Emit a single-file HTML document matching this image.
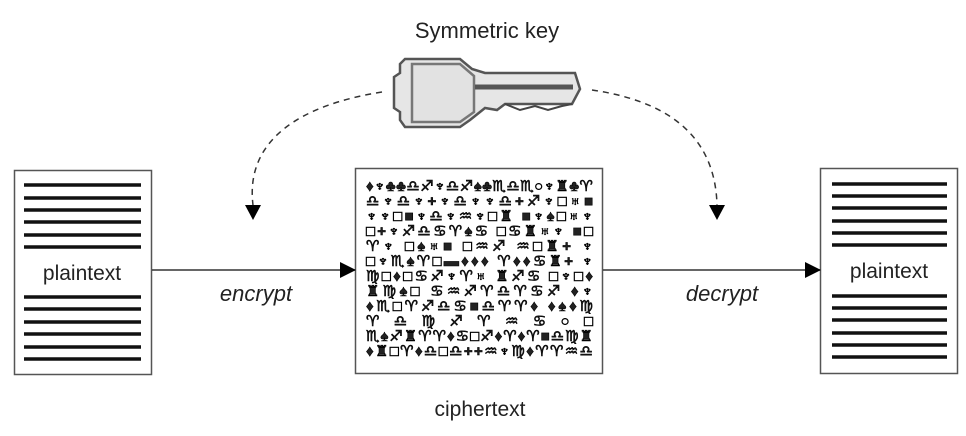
<!DOCTYPE html>
<html><head><meta charset="utf-8"><style>
html,body{margin:0;padding:0;background:#fff;width:966px;height:436px;overflow:hidden}
svg{display:block}
text{font-family:"Liberation Sans","DejaVu Sans",sans-serif;fill:#222}
</style></head><body>
<svg width="966" height="436" viewBox="0 0 966 436" xmlns="http://www.w3.org/2000/svg">
<text x="487" y="38" font-size="22" text-anchor="middle">Symmetric key</text>
<!-- key -->
<g stroke="#555" stroke-width="2.5" fill="#e6e6e6">
<path d="M405,59 L460,59 L472,69 L485,73 L575,73 L580,89 L572,104 L505,104 L497,110 L485,108 L470,120 L460,127 L405,127 L400,120 L400,112 L394,108 L394,77 L400,73 L400,64 Z"/>
<path d="M412,64 L460,64 L474,76 L474,112 L460,122 L412,122 Z" fill="#e2e2e2" stroke="#777"/>
</g>
<path d="M475,87 L573,87" stroke="#555" stroke-width="5"/>
<path d="M505,104 L520,110 L535,106 L548,110 L562,106 L572,104" stroke="#444" stroke-width="2" fill="none"/>
<!-- dashed curves -->
<path d="M382,92 C300,105 245,140 253,205" stroke="#333" stroke-width="1.5" fill="none" stroke-dasharray="6,5"/>
<path d="M245,205 L261,205 L253,220 Z" fill="#000"/>
<path d="M592,90 C660,100 715,130 717,205" stroke="#333" stroke-width="1.5" fill="none" stroke-dasharray="6,5"/>
<path d="M709,205 L725,205 L717,220 Z" fill="#000"/>
<!-- left doc -->
<rect x="14.5" y="170.5" width="137" height="204" fill="#fff" stroke="#555" stroke-width="1.5"/>
<g stroke="#111" stroke-width="3.5">
<line x1="24" y1="185" x2="141" y2="185"/><line x1="24" y1="198" x2="141" y2="198"/><line x1="24" y1="210" x2="141" y2="210"/><line x1="24" y1="222" x2="141" y2="222"/><line x1="24" y1="235" x2="141" y2="235"/><line x1="24" y1="247" x2="141" y2="247"/>
<line x1="24" y1="297" x2="141" y2="297"/><line x1="24" y1="309" x2="141" y2="309"/><line x1="24" y1="322" x2="141" y2="322"/><line x1="24" y1="334" x2="141" y2="334"/><line x1="24" y1="347" x2="141" y2="347"/><line x1="24" y1="359" x2="141" y2="359"/>
</g>
<text x="82" y="280" font-size="21" text-anchor="middle">plaintext</text>
<!-- right doc -->
<rect x="820.5" y="168.5" width="137" height="205" fill="#fff" stroke="#555" stroke-width="1.5"/>
<g stroke="#111" stroke-width="3.5">
<line x1="832" y1="184" x2="947" y2="184"/><line x1="832" y1="196" x2="947" y2="196"/><line x1="832" y1="208" x2="947" y2="208"/><line x1="832" y1="221" x2="947" y2="221"/><line x1="832" y1="233" x2="947" y2="233"/><line x1="832" y1="245" x2="947" y2="245"/>
<line x1="832" y1="296" x2="947" y2="296"/><line x1="832" y1="308" x2="947" y2="308"/><line x1="832" y1="320" x2="947" y2="320"/><line x1="832" y1="333" x2="947" y2="333"/><line x1="832" y1="345" x2="947" y2="345"/><line x1="832" y1="357" x2="947" y2="357"/>
</g>
<text x="889" y="278" font-size="21" text-anchor="middle">plaintext</text>
<!-- center -->
<rect x="355.5" y="168.5" width="247" height="205" fill="#fff" stroke="#555" stroke-width="1.5"/>
<g font-size="15" font-weight="bold" font-family="DejaVu Sans,sans-serif" fill="#000" stroke="#000" stroke-width="0.6">
<text x="366" y="191" textLength="227">♦♆♣♣♎♐♆♎♐♠♣♏♎♏○♆♜♣♈</text>
<text x="366" y="206" textLength="227">♎♆♎♆+♆♎♆♆♎+♐♆□♅■</text>
<text x="366" y="221" textLength="227">♆♆□■♆♎♆♒♆□♜   ■♆♠□♅♆</text>
<text x="366" y="236" textLength="227">□+♆♐♎♋♈♠♋  □♋♜♅♆  ■□</text>
<text x="366" y="251" textLength="227">♈♆  □♠♅■  □♒♐  ♒□♜+  ♆</text>
<text x="366" y="266" textLength="227">□♆♏♠♈□▬♦♦♦   ♈♦♦♋♜+  ♆</text>
<text x="366" y="281" textLength="227">♍□♦□♋♐♆♈♅  ♜♐♋  □♆□♦</text>
<text x="366" y="296" textLength="227">♜♍♠□    ♋♒♐♈♎♈♋♐    ♦♆</text>
<text x="366" y="311" textLength="227">♦♏□♈♐♎♋■♎♈♈♦    ♦♠♦♍</text>
<text x="366" y="326" textLength="227">♈  ♎  ♍  ♐  ♈  ♒  ♋  ○  □</text>
<text x="366" y="341" textLength="227">♏♠♐♜♈♈♦♋□♐♦♈♦♈■♎♍♜</text>
<text x="366" y="356" textLength="227">♦♜□♈♦♎□♎++♒♆♍♦♈♈♒♎</text>
</g>
<text x="480" y="416" font-size="21" text-anchor="middle">ciphertext</text>
<!-- arrows -->
<line x1="152" y1="270" x2="355" y2="270" stroke="#333" stroke-width="1.5"/>
<path d="M340,262 L356,270 L340,278 Z" fill="#000"/>
<line x1="603" y1="270" x2="820" y2="270" stroke="#333" stroke-width="1.5"/>
<path d="M805,262 L821,270 L805,278 Z" fill="#000"/>
<text x="256" y="301" font-size="22" font-style="italic" text-anchor="middle">encrypt</text>
<text x="722" y="301" font-size="22" font-style="italic" text-anchor="middle">decrypt</text>
</svg>
</body></html>
